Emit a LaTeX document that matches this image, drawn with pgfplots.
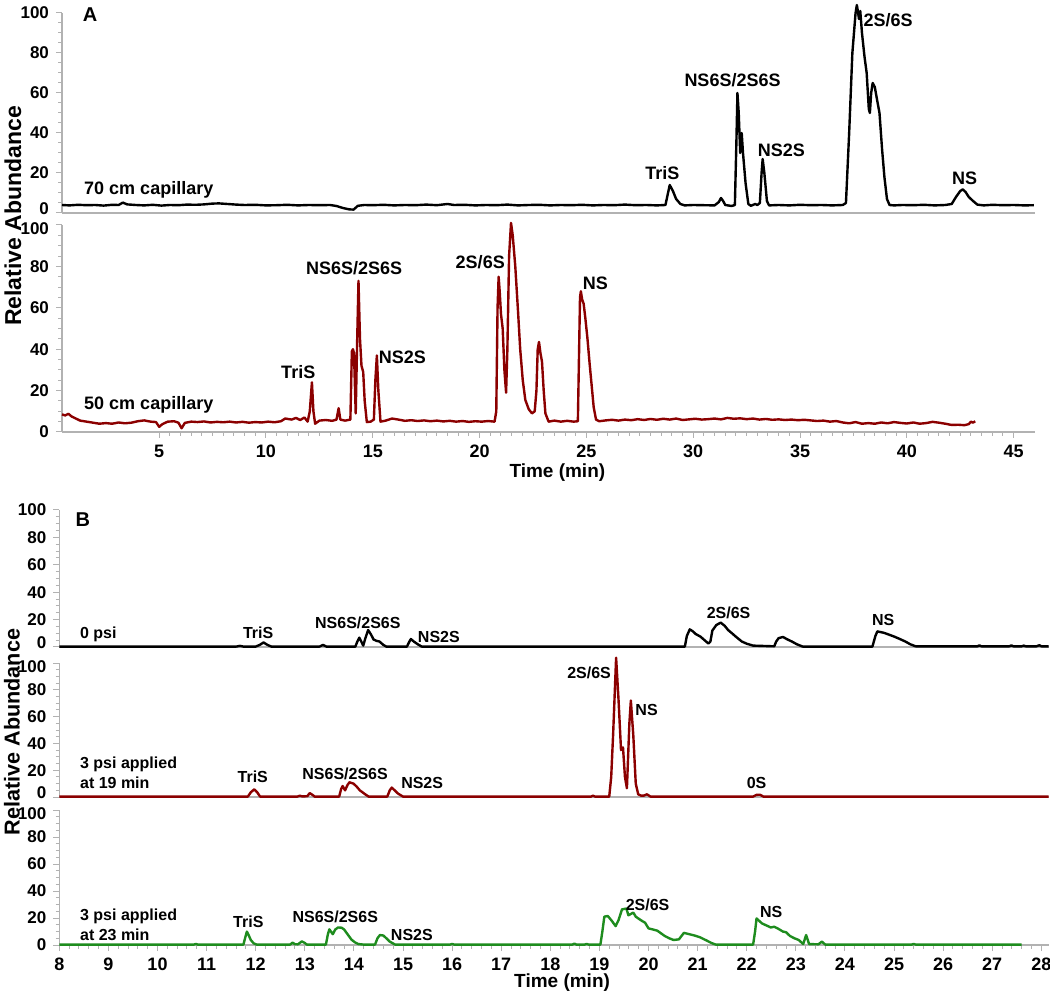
\documentclass[border=0pt]{standalone}
\usepackage{fontspec}
\setmainfont{Liberation Sans}
\usepackage{pgfplots}
\pgfplotsset{compat=1.18}
\definecolor{tracered}{RGB}{139,0,0}
\definecolor{tracegreen}{RGB}{30,140,30}
\newcommand{\up}[1]{\raisebox{2pt}[\height][\depth]{#1}}
\newcommand{\dn}[1]{\raisebox{-2pt}[\height][\depth]{#1}}
\tikzset{
 annA/.style={font=\bfseries\fontsize{9}{10}\selectfont},
 annB/.style={font=\bfseries\fontsize{8}{10}\selectfont},
}
\pgfplotsset{
 chrom/.style={
  scale only axis, anchor=south west,
  ymin=0, ymax=100, clip=false,
  axis x line*=bottom, axis y line*=left,
  axis line style={gray!60, line width=0.6pt},
  ytick={0,20,...,100}, minor y tick num=3,
  tick align=outside, tick style={gray!60, line width=0.5pt},
  major tick length=3pt, minor tick length=1.8pt,
  yticklabel style={font=\bfseries\fontsize{8.5}{9}\selectfont, text=black, inner ysep=0.3pt},
  xticklabel style={font=\bfseries\fontsize{9}{10}\selectfont, text=black},
  /pgf/number format/assume math mode=true,
  every axis plot/.append style={line width=1.2pt, no markers, line join=round},
 },
}
\begin{document}
\begin{tikzpicture}
\path[use as bounding box] (0,0) rectangle (525pt,496pt);

% ---------------- Panel A, 70 cm ----------------
\begin{axis}[chrom, at={(31pt,389.5pt)}, width=486.5pt, height=100pt,
  xmin=0.45, xmax=46, xtick=\empty,
  yticklabels={{\up{0}},20,40,60,80,100}]
\addplot[black] coordinates {
(0.45,4.0)(0.8,3.8)(1.2,4.1)(1.6,3.9)(2.0,4.0)(2.4,3.7)(2.8,4.1)(3.1,4.0)(3.3,5.2)(3.5,4.3)
(3.9,4.0)(4.3,3.8)(4.7,4.1)(5.1,3.7)(5.5,4.0)(5.9,3.9)(6.3,4.2)(6.7,4.1)(7.1,4.3)(7.5,4.7)
(7.8,4.8)(8.2,4.5)(8.6,4.2)(9.0,4.0)(9.5,4.1)(10.0,3.8)(10.5,3.9)(11.0,4.1)(11.5,3.8)(12.0,4.0)
(12.5,3.9)(13.0,4.0)(13.3,3.5)(13.6,2.5)(13.9,1.8)(14.1,1.7)(14.3,3.6)(14.6,4.0)(15.0,3.9)(15.5,4.1)
(16,3.8)(16.5,4.0)(17,3.9)(17.5,4.2)(18,3.9)(18.5,4.5)(18.8,4.0)(19.3,4.1)(19.8,3.8)(20.3,4.0)
(20.8,3.9)(21.3,4.2)(21.8,3.8)(22.3,4.0)(22.8,4.1)(23.3,3.8)(23.8,4.0)(24.3,3.9)(24.8,4.1)(25.3,3.8)
(25.8,4.0)(26.3,3.9)(26.8,4.2)(27.3,3.9)(27.8,4.0)(28.3,3.8)(28.7,4.0)(28.8,9)(28.9,14)(29.05,11)
(29.2,7)(29.4,4.5)(29.6,3.8)(30.0,4.0)(30.5,3.9)(31.0,3.8)(31.2,5.5)(31.3,7.5)(31.4,6)(31.5,4)
(31.8,3.5)(31.95,4)(32.02,35)(32.07,60)(32.13,50)(32.2,30)(32.27,40)(32.33,30)(32.45,15)(32.58,4.5)
(32.7,3.6)(32.9,4.5)(33.0,4)(33.12,5)(33.2,20)(33.25,27)(33.33,20)(33.45,6)(33.55,3.8)(34,4)
(34.5,3.8)(35,4.1)(35.5,3.9)(36,4.0)(36.5,3.8)(37.0,4.0)(37.15,5)(37.3,40)(37.45,80)(37.6,100)
(37.66,104)(37.72,100)(37.76,97)(37.82,101)(37.9,90)(38.02,78)(38.12,70)(38.22,52)(38.27,50)(38.33,60)
(38.40,65)(38.5,63)(38.6,57)(38.72,50)(38.84,32)(38.95,18)(39.07,7)(39.19,4)(39.4,3.8)(39.8,4.0)
(40.3,3.9)(40.8,4.1)(41.3,3.8)(41.8,4.0)(42.1,4.5)(42.3,8)(42.5,11)(42.62,11.8)(42.75,10.5)(42.9,8)
(43.1,6)(43.3,4.2)(43.6,3.8)(44,4.1)(44.5,3.9)(45,4.0)(45.5,3.8)(45.95,3.9)
};
\node[font=\bfseries\fontsize{10}{12}\selectfont] at (axis cs:1.77,99) {A};
\node[annA, anchor=west] at (axis cs:1.16,11.5) {70 cm capillary};
\node[annA] at (axis cs:28.56,20) {TriS};
\node[annA] at (axis cs:31.84,66.5) {NS6S/2S6S};
\node[annA] at (axis cs:34.13,31.5) {NS2S};
\node[annA] at (axis cs:39.12,96.5) {2S/6S};
\node[annA] at (axis cs:42.7,17.5) {NS};
\end{axis}

% ---------------- Panel A, 50 cm ----------------
\begin{axis}[chrom, at={(31pt,280pt)}, width=486.5pt, height=103.5pt,
  xmin=0.45, xmax=46, xtick={5,10,...,45}, minor x tick num=9,
  yticklabels={0,20,40,60,80,{\dn{100}}}]
\addplot[tracered] coordinates {
(0.45,8.5)(0.6,8.0)(0.75,8.8)(0.9,7.5)(1.1,6.5)(1.3,5.5)(1.6,5.0)(1.9,4.5)(2.2,4.0)(2.5,4.3)
(2.8,4.0)(3.1,4.6)(3.4,4.2)(3.7,4.5)(4.0,5.2)(4.3,5.6)(4.6,5.0)(4.85,4.8)(5.0,2.5)(5.15,3.8)
(5.4,5.0)(5.7,5.2)(5.9,4.5)(6.05,1.8)(6.2,4.4)(6.5,5.0)(6.8,4.8)(7.1,5.1)(7.4,4.6)(7.7,4.9)
(8.0,4.7)(8.3,5.0)(8.6,4.6)(8.9,4.9)(9.2,4.5)(9.5,4.8)(9.8,4.6)(10.1,5.0)(10.4,4.7)(10.7,5.2)
(10.9,6.5)(11.2,6.0)(11.4,6.8)(11.6,5.8)(11.8,7.0)(11.95,5.0)(12.05,10)(12.15,24)(12.22,10)(12.3,4.0)
(12.5,5.5)(12.8,5.8)(13.1,5.4)(13.3,6)(13.4,11.5)(13.48,6)(13.7,5.5)(13.95,6)(14.02,39)(14.07,40)
(14.12,38)(14.2,9)(14.27,45)(14.33,73)(14.4,45)(14.47,32)(14.55,29)(14.62,15)(14.72,4.8)(14.9,5)
(15.05,6)(15.12,25)(15.19,37)(15.26,20)(15.36,5)(15.6,5.5)(15.9,6.5)(16.2,6.0)(16.5,5.4)(16.8,5.7)
(17.1,5.3)(17.4,5.6)(17.7,5.2)(18.0,5.5)(18.3,5.1)(18.6,5.4)(18.9,5.0)(19.2,5.3)(19.5,4.9)(19.8,5.2)
(20.1,5.0)(20.4,5.3)(20.7,5.0)(20.78,10)(20.84,60)(20.89,75)(20.94,68)(21.0,57)(21.08,50)(21.16,30)
(21.24,19)(21.3,40)(21.38,85)(21.47,101)(21.55,95)(21.67,80)(21.8,58)(21.9,40)(22.02,25)(22.14,15.5)
(22.3,11)(22.45,9)(22.58,10)(22.66,20)(22.72,40)(22.78,43.5)(22.85,38)(22.92,34)(23.0,20)(23.08,9)
(23.23,5)(23.5,5.5)(23.8,5.0)(24.1,5.4)(24.4,5.0)(24.6,5.2)(24.65,35)(24.7,65)(24.74,68)(24.8,64)
(24.87,62)(24.95,55)(25.05,45)(25.15,33)(25.25,22)(25.34,12)(25.45,6)(25.6,5.2)(25.9,5.6)(26.2,5.9)
(26.5,5.5)(26.8,6.0)(27.1,5.7)(27.4,6.2)(27.7,5.8)(28.0,6.3)(28.3,5.9)(28.6,6.4)(28.9,6.0)(29.2,6.5)
(29.5,5.8)(29.8,6.1)(30.1,6.4)(30.4,6.0)(30.7,6.2)(31.0,6.5)(31.3,6.1)(31.6,6.8)(31.9,6.4)(32.2,6.6)
(32.5,6.2)(32.8,6.5)(33.1,6.0)(33.4,6.3)(33.7,5.9)(34.0,6.1)(34.3,5.8)(34.6,6.0)(34.9,5.7)(35.2,5.9)
(35.5,5.6)(35.8,5.3)(36.1,5.5)(36.4,5.0)(36.7,5.3)(37.0,4.6)(37.3,4.2)(37.6,4.8)(37.9,4.0)(38.2,4.3)
(38.5,4.0)(38.8,4.6)(39.1,4.2)(39.4,4.8)(39.7,4.4)(40.0,4.1)(40.3,4.6)(40.6,4.0)(40.9,4.3)(41.2,4.9)
(41.5,4.5)(41.8,4.0)(42.1,3.4)(42.4,3.5)(42.7,3.3)(42.9,3.8)(43.0,5.0)(43.1,4.5)(43.2,5.2)
};
\node[annA, anchor=west] at (axis cs:1.16,13) {50 cm capillary};
\node[annA] at (axis cs:11.51,29) {TriS};
\node[annA] at (axis cs:14.13,79) {NS6S/2S6S};
\node[annA] at (axis cs:16.38,36) {NS2S};
\node[annA] at (axis cs:20.03,82) {2S/6S};
\node[annA] at (axis cs:25.42,72) {NS};
\node[font=\bfseries\fontsize{9.5}{11}\selectfont] at (axis cs:23.64,-19.8) {Time (min)};
\end{axis}

\node[rotate=90, font=\bfseries\fontsize{11.5}{13}\selectfont] at (6.5pt,388pt) {Relative Abundance};

% ---------------- Panel B, 0 psi ----------------
\begin{axis}[chrom, at={(29.65pt,172.5pt)}, width=494.7pt, height=68.5pt,
  xmin=8, xmax=28.15, xtick=\empty,
  yticklabels={{\up{0}},20,40,60,80,100}]
\addplot[black] coordinates {
(8,0.3)(11.6,0.3)(11.68,0.8)(11.75,0.3)(12.0,0.3)(12.08,1.5)(12.16,3.3)(12.24,1.5)(12.32,0.3)(13.3,0.3)
(13.37,1.5)(13.44,0.3)(14.03,0.3)(14.07,4)(14.11,6.8)(14.15,4)(14.19,1)(14.23,6)(14.29,12.4)(14.35,9)
(14.4,5.5)(14.46,4.5)(14.52,4)(14.6,1.5)(14.66,0.3)(15.08,0.3)(15.13,4)(15.16,5.8)(15.22,4)(15.3,2)
(15.38,0.3)(20.74,0.3)(20.78,8)(20.84,12.9)(20.9,11.5)(20.96,9.5)(21.06,7.5)(21.14,5)(21.22,2.5)(21.26,4)
(21.3,12)(21.38,16)(21.47,17.8)(21.55,15.5)(21.62,12.4)(21.7,10)(21.78,7.5)(21.9,4)(22.0,2.4)(22.13,1)
(22.56,0.5)(22.6,4)(22.65,6.5)(22.74,7.3)(22.83,5.5)(22.92,4)(23.02,2)(23.14,0.3)(24.56,0.3)(24.62,8)
(24.66,11.4)(24.79,10.4)(24.9,9)(25.01,7.5)(25.12,5.8)(25.23,4)(25.33,2)(25.44,0.5)(26.7,0.5)(26.74,1.2)
(26.78,0.5)(27.35,0.5)(27.39,1.2)(27.43,0.5)(27.6,0.5)(27.64,1.0)(27.68,0.5)(27.9,0.5)(27.96,1.3)(28.0,0.5)
(28.15,0.5)
};
\node[font=\bfseries\fontsize{10}{12}\selectfont] at (axis cs:8.48,92.7) {B};
\node[annB, anchor=west] at (axis cs:8.28,9.5) {0 psi};
\node[annB] at (axis cs:12.05,10.2) {TriS};
\node[annB] at (axis cs:14.08,17.5) {NS6S/2S6S};
\node[annB] at (axis cs:15.73,7.3) {NS2S};
\node[annB] at (axis cs:21.63,24.8) {2S/6S};
\node[annB] at (axis cs:24.78,19.7) {NS};
\end{axis}

% ---------------- Panel B, 3 psi at 19 min ----------------
\begin{axis}[chrom, at={(29.65pt,97.5pt)}, width=494.7pt, height=67pt,
  xmin=8, xmax=28.15, xtick=\empty,
  yticklabels={{\up{0}},20,40,60,80,{\dn{100}}}]
\addplot[tracered] coordinates {
(8,0.3)(11.84,0.3)(11.9,3.5)(11.97,5.7)(12.03,3.5)(12.09,0.3)(12.85,0.3)(12.9,1.0)(12.95,0.4)(13.05,0.6)
(13.1,2.9)(13.16,1.5)(13.2,0.3)(13.7,0.3)(13.74,6)(13.77,8.2)(13.82,5)(13.87,9)(13.91,11)(13.99,10)
(14.05,8)(14.12,5)(14.23,2)(14.3,0.3)(14.68,0.3)(14.73,5)(14.77,7)(14.83,5)(14.9,2.5)(15.0,0.3)
(18.83,0.3)(18.87,1.0)(18.91,0.3)(19.2,0.3)(19.24,15)(19.28,47.5)(19.34,104)(19.39,72)(19.44,35)(19.48,37)
(19.52,15)(19.56,6.5)(19.61,55)(19.64,72)(19.69,46)(19.74,10)(19.79,2)(19.85,1)(19.9,1)(19.97,2)
(20.04,0.3)(22.13,0.3)(22.2,1.6)(22.27,1.7)(22.34,0.3)(28.15,0.3)
};
\node[annB, anchor=west, align=left] at (axis cs:8.28,17.9) {3 psi applied\\at 19 min};
\node[annB] at (axis cs:11.94,14.9) {TriS};
\node[annB] at (axis cs:13.82,17.2) {NS6S/2S6S};
\node[annB] at (axis cs:15.39,10.4) {NS2S};
\node[annB] at (axis cs:18.79,92.5) {2S/6S};
\node[annB] at (axis cs:19.96,65) {NS};
\node[annB] at (axis cs:22.2,10.4) {0S};
\end{axis}

% ---------------- Panel B, 3 psi at 23 min ----------------
\begin{axis}[chrom, at={(29.65pt,23.5pt)}, width=494.7pt, height=67.5pt,
  xmin=8, xmax=28.15, xtick={8,9,...,28}, minor x tick num=4,
  yticklabels={0,20,40,60,80,{\dn{100}}}]
\addplot[tracegreen] coordinates {
(8,0.3)(10.74,0.3)(10.78,0.8)(10.82,0.3)(11.75,0.3)(11.79,6)(11.82,9.9)(11.86,7)(11.9,3.7)(11.96,1.2)
(12.02,0.3)(12.7,0.3)(12.75,1.7)(12.8,0.6)(12.86,0.5)(12.94,2.7)(13.0,1.5)(13.04,0.3)(13.43,0.3)(13.47,8)
(13.5,11.6)(13.57,8)(13.62,11.5)(13.68,13)(13.75,12.8)(13.8,11.5)(13.85,9)(13.95,4)(14.02,2)(14.09,0.7)
(14.2,0.3)(14.43,0.3)(14.48,5)(14.53,7.4)(14.6,7)(14.66,5)(14.73,2.5)(14.84,0.3)(15.96,0.3)(16.0,0.8)
(16.04,0.3)(18.45,0.3)(18.49,1.0)(18.53,0.3)(18.7,0.3)(18.74,0.8)(18.78,0.3)(19.02,0.3)(19.06,10)(19.1,21)
(19.17,21.5)(19.25,18)(19.33,14)(19.39,18.5)(19.46,26.4)(19.55,27)(19.59,22)(19.64,23)(19.69,24)(19.74,21)
(19.79,19.7)(19.86,18)(19.93,16.5)(20.0,12.3)(20.09,11.5)(20.18,10.6)(20.26,8.5)(20.33,6.7)(20.42,5)(20.51,3.7)
(20.62,4.2)(20.72,9)(20.83,8)(20.94,7)(21.05,5.7)(21.19,3.2)(21.28,1.5)(21.37,0.3)(22.13,0.3)(22.17,10)
(22.2,19.7)(22.25,18)(22.31,16)(22.4,14.5)(22.49,13)(22.56,13.5)(22.63,12.3)(22.74,9.9)(22.8,9.5)(22.88,6.7)
(22.97,5)(23.06,3.7)(23.15,0.7)(23.21,7.4)(23.27,0.7)(23.46,0.5)(23.53,2.5)(23.6,0.3)(25.36,0.3)(25.4,0.8)
(25.44,0.3)(27.6,0.3)
};
\node[annB, anchor=west, align=left] at (axis cs:8.28,14.8) {3 psi applied\\at 23 min};
\node[annB] at (axis cs:11.85,17) {TriS};
\node[annB] at (axis cs:13.62,20.7) {NS6S/2S6S};
\node[annB] at (axis cs:15.18,7.4) {NS2S};
\node[annB] at (axis cs:19.98,29.6) {2S/6S};
\node[annB] at (axis cs:22.5,24.4) {NS};
\node[font=\bfseries\fontsize{9.5}{11}\selectfont] at (axis cs:18.24,-28.1) {Time (min)};
\end{axis}

\node[rotate=90, font=\bfseries\fontsize{10.8}{13}\selectfont] at (6pt,130pt) {Relative Abundance};
\end{tikzpicture}
\end{document}
